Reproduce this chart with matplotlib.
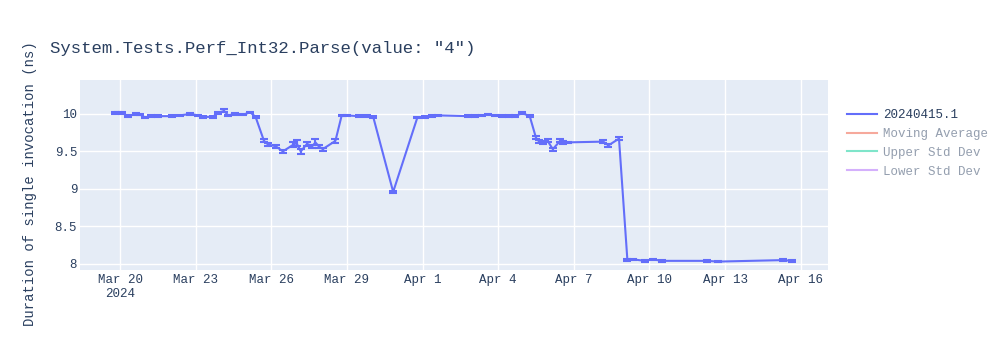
import numpy as np
import pandas as pd
import matplotlib
matplotlib.use("Agg")
import matplotlib.pyplot as plt
import matplotlib.dates as mdates
from matplotlib.lines import Line2D

plt.rcParams["font.family"] = ["Liberation Mono", "DejaVu Sans Mono"]

# ---- data
TITLE = 'System.Tests.Perf_Int32.Parse(value: "4")'
YLABEL = "Duration of single invocation (ns)"
SERIES = "20240415.1"
HIDDEN = ["Moving Average", "Upper Std Dev", "Lower Std Dev"]

dates = [
    "2024-03-19 19:00", "2024-03-19 22:00", "2024-03-20 02:00", "2024-03-20 08:00",
    "2024-03-20 15:00", "2024-03-20 19:00", "2024-03-21 00:00", "2024-03-21 05:00",
    "2024-03-21 12:00", "2024-03-22 01:00", "2024-03-22 09:00", "2024-03-22 19:00",
    "2024-03-23 02:00", "2024-03-23 07:00", "2024-03-23 16:00", "2024-03-23 21:00",
    "2024-03-24 03:00", "2024-03-24 07:00", "2024-03-24 13:00", "2024-03-24 21:00",
    "2024-03-25 04:00", "2024-03-25 09:00", "2024-03-25 17:00", "2024-03-25 21:00",
    "2024-03-26 04:00", "2024-03-26 11:00", "2024-03-26 21:00", "2024-03-27 00:00",
    "2024-03-27 04:00", "2024-03-27 10:00", "2024-03-27 15:00", "2024-03-27 18:00",
    "2024-03-27 21:00", "2024-03-28 01:00", "2024-03-28 13:00", "2024-03-28 19:00",
    "2024-03-29 00:00", "2024-03-29 11:00", "2024-03-29 19:00", "2024-03-30 01:00",
    "2024-03-30 20:00", "2024-03-31 19:00", "2024-04-01 02:00", "2024-04-01 09:00",
    "2024-04-01 15:00", "2024-04-02 19:00", "2024-04-03 02:00", "2024-04-03 09:00",
    "2024-04-03 14:00", "2024-04-03 21:00", "2024-04-04 04:00", "2024-04-04 10:00",
    "2024-04-04 16:00", "2024-04-04 23:00", "2024-04-05 06:00", "2024-04-05 12:00",
    "2024-04-05 15:00", "2024-04-05 19:00", "2024-04-05 23:00", "2024-04-06 04:00",
    "2024-04-06 11:00", "2024-04-06 14:00", "2024-04-06 18:00", "2024-04-08 04:00",
    "2024-04-08 09:00", "2024-04-08 19:00", "2024-04-09 03:00", "2024-04-09 08:00",
    "2024-04-09 20:00", "2024-04-10 03:00", "2024-04-10 12:00", "2024-04-12 07:00",
    "2024-04-12 17:00", "2024-04-15 07:00", "2024-04-15 16:00",
]
values = [
    10.01, 10.02, 10.01, 9.97, 10.00, 9.99, 9.95, 9.97,
    9.97, 9.97, 9.98, 10.00, 9.98, 9.96, 9.96, 10.01,
    10.04, 9.98, 10.00, 9.99, 10.02, 9.96, 9.64, 9.59,
    9.57, 9.50, 9.59, 9.61, 9.50, 9.60, 9.57, 9.62,
    9.57, 9.53, 9.64, 9.98, 9.98, 9.97, 9.97, 9.96,
    8.96, 9.95, 9.96, 9.97, 9.98, 9.97, 9.97, 9.98,
    9.99, 9.98, 9.97, 9.97, 9.97, 10.01, 9.97, 9.68,
    9.63, 9.62, 9.64, 9.53, 9.64, 9.62, 9.62, 9.63,
    9.58, 9.67, 8.05, 8.06, 8.04, 8.06, 8.04, 8.04,
    8.03, 8.05, 8.04,
]
errors = [
    0.01, 0.01, 0.01, 0.01, 0.01, 0.01, 0.01, 0.01,
    0.01, 0.01, 0.01, 0.01, 0.01, 0.01, 0.01, 0.01,
    0.02, 0.01, 0.01, 0.01, 0.01, 0.01, 0.02, 0.02,
    0.02, 0.02, 0.03, 0.04, 0.03, 0.03, 0.02, 0.04,
    0.02, 0.02, 0.03, 0.01, 0.01, 0.01, 0.01, 0.01,
    0.01, 0.01, 0.01, 0.01, 0.01, 0.01, 0.01, 0.01,
    0.01, 0.01, 0.01, 0.01, 0.01, 0.01, 0.01, 0.02,
    0.02, 0.02, 0.02, 0.02, 0.02, 0.02, 0.01, 0.02,
    0.02, 0.02, 0.01, 0.01, 0.01, 0.01, 0.01, 0.01,
    0.01, 0.01, 0.01,
]
yticks = [8, 8.5, 9, 9.5, 10]
ytick_labels = ["8", "8.5", "9", "9.5", "10"]

BLUE = "#636efa"
HIDDEN_COLORS = ["#ef553b", "#00cc96", "#ab63fa"]
TXT = "#2a3f5f"

x = pd.to_datetime(dates)

fig = plt.figure(figsize=(10, 3.5), dpi=100)
ax = fig.add_axes([0.08, 0.229, 0.748, 0.542])
ax.set_facecolor("#e5ecf6")

ax.errorbar(x, values, yerr=errors, color=BLUE, lw=1.5, elinewidth=1.5,
            capsize=3, capthick=1.5, zorder=3)

ax.set_xlim(pd.Timestamp("2024-03-18 09:50"), pd.Timestamp("2024-04-17 02:00"))
ax.set_ylim(7.92, 10.45)
ax.set_yticks(yticks)
ax.set_yticklabels(ytick_labels)

tick_dates = pd.date_range("2024-03-20", periods=10, freq="3D")
ax.set_xticks(tick_dates)
ax.set_xticklabels([d.strftime("%b %-d") + ("\n2024" if i == 0 else "")
                    for i, d in enumerate(tick_dates)])

ax.grid(color="white", lw=1)
ax.set_axisbelow(True)
for s in ax.spines.values():
    s.set_visible(False)
ax.tick_params(length=0, labelsize=9, colors=TXT)
ax.tick_params(axis="x", pad=3)
ax.tick_params(axis="y", pad=2)

fig.text(0.05, 1 - 48 / 350, TITLE, fontsize=12.5, color=TXT, va="center")
fig.text(0.03, 1 - 184 / 350, YLABEL, fontsize=10, color=TXT,
         rotation=90, va="center", ha="center")

handles = [Line2D([], [], color=BLUE, lw=1.5)]
handles += [Line2D([], [], color=c, lw=1.5, alpha=0.5) for c in HIDDEN_COLORS]
leg = fig.legend(handles, [SERIES] + HIDDEN, loc="upper left",
                 bbox_to_anchor=(0.842, 1 - 104 / 350), frameon=False,
                 fontsize=9, handlelength=2.4, handletextpad=0.5,
                 labelspacing=0.55, borderaxespad=0)
for i, t in enumerate(leg.get_texts()):
    t.set_color(TXT)
    if i > 0:
        t.set_alpha(0.5)

fig.savefig("out.png", dpi=100)
